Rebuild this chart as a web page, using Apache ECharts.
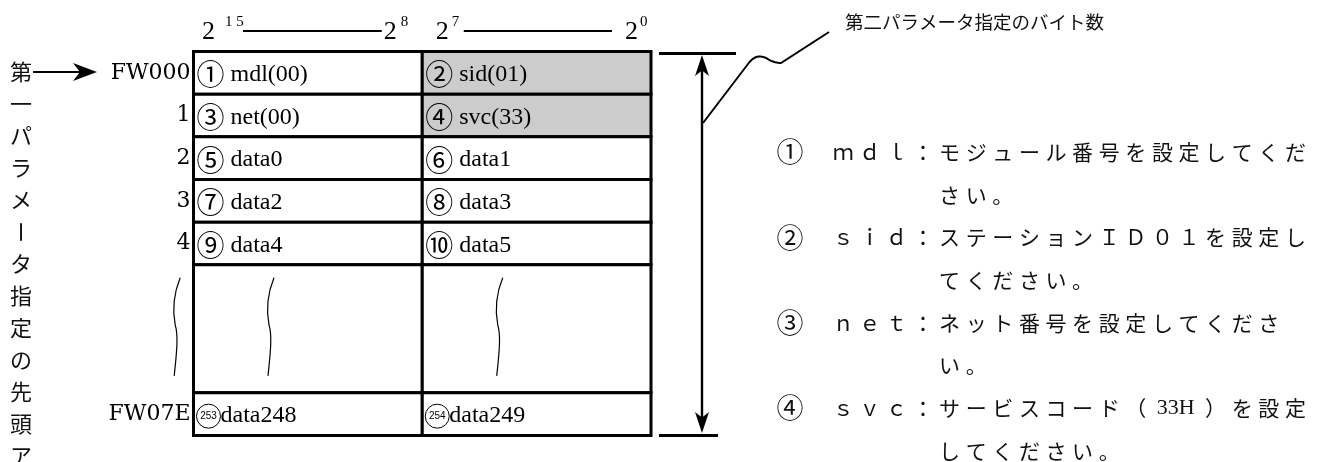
<!DOCTYPE html>
<html>
<head>
<meta charset="utf-8">
<script src="https://cdn.jsdelivr.net/npm/echarts@6/dist/echarts.min.js"></script>
<style>html,body{margin:0;padding:0;background:#fff}#c{width:1326px;height:462px}</style>
</head>
<body>
<div id="c"></div>
<script>
// ---------------- data ----------------
const addrLabels = ['FW000', '1', '2', '3', '4', '', 'FW07E'];
const rowStart   = [0, 1, 2, 3, 4, 5, 8];
const rowSpan    = [1, 1, 1, 1, 1, 3, 1];
const upperNum   = ['①', '③', '⑤', '⑦', '⑨', '', '253'];
const upperName  = ['mdl(00)', 'net(00)', 'data0', 'data2', 'data4', '', 'data248'];
const lowerNum   = ['②', '④', '⑥', '⑧', '⑩', '', '254'];
const lowerName  = ['sid(01)', 'svc(33)', 'data1', 'data3', 'data5', '', 'data249'];
const lowerShaded = [1, 1, 0, 0, 0, 0, 0];
const bitLabels  = ['15', '8', '7', '0'];
const sideText   = '第一パラメータ指定の先頭ア';
const titleText  = '第二パラメータ指定のバイト数';
const noteLines  = [
  {indent: 0, text: '①　ｍｄｌ：モジュール番号を設定してくだ'},
  {indent: 6, text: 'さい。'},
  {indent: 0, text: '②　ｓｉｄ：ステーションＩＤ０１を設定し'},
  {indent: 6, text: 'てください。'},
  {indent: 0, text: '③　ｎｅｔ：ネット番号を設定してくださ'},
  {indent: 6, text: 'い。'},
  {indent: 0, text: '④　ｓｖｃ：サービスコード（33H）を設定'},
  {indent: 6, text: 'してください。'}
];

// ---------------- styles ----------------
const SERIF = "'Liberation Serif','Times New Roman',serif";
const SERIF2 = "'DejaVu Serif',serif";
const CJK = "'Noto Sans CJK JP','Noto Sans CJK SC',sans-serif";
const INK = '#000';

const RICH = {
  n: {fontFamily: CJK, fontSize: 28, color: INK},
  c: {fontFamily: "'Liberation Sans',sans-serif", fontSize: 10, color: INK, width: 24, height: 24, lineHeight: 24,
      align: 'center', borderColor: INK, borderWidth: 1, borderRadius: 12},
  t: {fontFamily: SERIF, fontSize: 24, color: INK}
};

function cellText(num, name) {
  if (!num) return '';
  if (/^\d+$/.test(num)) return '{c|' + num + '}{t|' + name + '}';
  return '{n|' + num + '}{t| ' + name + '}';
}

function squiggle(x, y, h) {
  const k = h / 100;
  return 'M' + (x + 5) + ',' + y +
    ' C' + (x - 1) + ',' + (y + 15 * k) + ' ' + (x - 3) + ',' + (y + 32 * k) + ' ' + x + ',' + (y + 48 * k) +
    ' C' + (x + 3) + ',' + (y + 58 * k) + ' ' + (x + 2) + ',' + (y + 72 * k) + ' ' + (x - 1) + ',' + (y + h);
}

const cells = [];
for (let i = 0; i < rowStart.length; i++) {
  for (let c = 0; c < 2; c++) cells.push([c, rowStart[i], rowStart[i] + rowSpan[i], i]);
}

function renderItem(params, api) {
  const c = api.value(0), r0 = api.value(1), r1 = api.value(2), i = api.value(3);
  const p0 = api.coord([c, r0]), p1 = api.coord([c + 1, r1]);
  const children = [{
    type: 'rect',
    shape: {x: p0[0], y: p0[1], width: p1[0] - p0[0], height: p1[1] - p0[1]},
    style: {fill: (c === 1 && lowerShaded[i]) ? '#cccccc' : '#ffffff', stroke: INK, lineWidth: 3}
  }];
  const num = c === 0 ? upperNum[i] : lowerNum[i];
  const name = c === 0 ? upperName[i] : lowerName[i];
  if (num) {
    children.push({
      type: 'text', x: p0[0] + 3, y: (p0[1] + p1[1]) / 2 + 2,
      style: {text: cellText(num, name), rich: RICH, verticalAlign: 'middle', align: 'left'}
    });
  }
  if (rowSpan[i] > 1) {
    const xs = [api.coord([c + 0.33, r0])[0]];
    if (c === 0) xs.push(api.coord([-0.08, r0])[0]);
    const h = p1[1] - p0[1];
    xs.forEach(function (x) {
      children.push({type: 'path', shape: {pathData: squiggle(x, p0[1] + 13, h - 30)},
        style: {fill: null, stroke: INK, lineWidth: 1.2}});
    });
  }
  return {type: 'group', children: children};
}

const chart = echarts.init(document.getElementById('c'), null, {renderer: 'canvas'});

chart.setOption({
  animation: false,
  backgroundColor: '#fff',
  grid: {left: 193.5, top: 51.5, width: 457.5, height: 384, containLabel: false, outerBoundsMode: 'none'},
  xAxis: {type: 'value', min: 0, max: 2, show: false},
  yAxis: {
    type: 'value', min: 0, max: 9, interval: 0.5, inverse: true,
    axisLine: {show: false}, axisTick: {show: false}, splitLine: {show: false},
    axisLabel: {
      show: true, margin: 3, color: INK, fontFamily: SERIF2, fontSize: 22, padding: [8, 0, 0, 0],
      formatter: function (v) {
        for (let i = 0; i < rowStart.length; i++) {
          if (rowSpan[i] === 1 && Math.abs(rowStart[i] + 0.5 - v) < 1e-6) return addrLabels[i];
        }
        return '';
      }
    }
  },
  series: [{type: 'custom', coordinateSystem: 'cartesian2d', clip: false, silent: true,
    data: cells, encode: {x: 0, y: [1, 2]}, renderItem: renderItem}]
});

// ---------------- annotations (positioned from the grid) ----------------
const px = function (x, y) { return chart.convertToPixel({gridIndex: 0}, [x, y]); };
const L = px(0, 0)[0], D = px(1, 0)[0], R = px(2, 0)[0], T = px(0, 0)[1], B = px(0, 9)[1];

const g = [];
function txt(x, y, s, size, fam, extra) {
  g.push({type: 'text', x: x, y: y, silent: true,
    style: Object.assign({text: s, fontSize: size, fontFamily: fam, fill: INK, verticalAlign: 'middle', align: 'left'}, extra || {})});
}
function line(x1, y1, x2, y2, w) {
  g.push({type: 'line', silent: true, shape: {x1: x1, y1: y1, x2: x2, y2: y2}, style: {stroke: INK, lineWidth: w}});
}
function poly(pts) {
  g.push({type: 'polygon', silent: true, shape: {points: pts}, style: {fill: INK}});
}
function quad(pts, p0, c, p1) {
  for (let s = 1; s <= 10; s++) {
    const t = s / 10, u = 1 - t;
    pts.push([u * u * p0[0] + 2 * u * t * c[0] + t * t * p1[0], u * u * p0[1] + 2 * u * t * c[1] + t * t * p1[1]]);
  }
}

// bit headers
const HY = 32.5, SY = 22.5, LY = 31;
txt(L + 8.5, HY, '2', 26, SERIF);
txt(L + 31.5, SY, bitLabels[0].split('').join(' '), 15, SERIF);
line(L + 49.5, LY, D - 40.5, LY, 1.8);
txt(D - 38.5, HY, '2', 26, SERIF);
txt(D - 21.5, SY, bitLabels[1], 15, SERIF);
txt(D + 13.5, HY, '2', 26, SERIF);
txt(D + 29.5, SY, bitLabels[2], 15, SERIF);
line(D + 41.5, LY, R - 39, LY, 1.8);
txt(R - 26, HY, '2', 26, SERIF);
txt(R - 11, SY, bitLabels[3], 15, SERIF);

// dimension arrow on the right
const AX = R + 51;
line(R + 8, T + 2, R + 85, T + 2, 3);
line(R + 8, B, R + 67, B, 3);
line(AX, T + 12, AX, B - 12, 2.4);
poly([[AX, T + 3.5], [AX - 7, T + 24.5], [AX, T + 19], [AX + 7, T + 24.5]]);
poly([[AX, B - 2.5], [AX - 7, B - 23.5], [AX, B - 18], [AX + 7, B - 23.5]]);
// leader curve
const lead = [[AX + 1, 123], [AX + 46, 64]];
quad(lead, [AX + 46, 64], [AX + 54, 53], [AX + 64, 58]);
quad(lead, [AX + 64, 58], [AX + 72, 63], [AX + 79, 63]);
lead.push([AX + 127, 32]);
g.push({type: 'polyline', silent: true, shape: {points: lead}, style: {fill: null, stroke: INK, lineWidth: 2}});
txt(AX + 143, 22, titleText, 18.5, CJK, {fill: '#111'});

// vertical caption on the left + arrow
Array.from(sideText).forEach(function (ch, k) {
  const el = {type: 'text', x: 21, y: 72 + 32 * k, silent: true,
    style: {text: ch, fontSize: 22, fontFamily: CJK, fill: '#111', align: 'center', verticalAlign: 'middle'}};
  if (ch === 'ー') { el.rotation = -Math.PI / 2; }
  g.push(el);
});
line(33, 72, 82, 72, 2);
poly([[97, 72], [73, 63], [80, 72], [73, 81]]);

// notes on the right
const NX = 790, NP = 26.6, NY = 152, NL = 42.7;
noteLines.forEach(function (ln, li) {
  const toks = ln.text.match(/33H|./gu);
  let col = ln.indent;
  toks.forEach(function (t) {
    const span = t === '33H' ? 2 : 1;
    if (t !== '　') {
      const isLatin = /^[0-9A-Za-z]+$/.test(t);
      const isCircled = /[①-⑳]/.test(t);
      g.push({type: 'text', silent: true, x: NX + NP * (col + (span - 1) / 2), y: NY + NL * li,
        style: {text: t, fontSize: isLatin ? 22 : (isCircled ? 27 : 21), fontFamily: isLatin ? SERIF : CJK, fill: '#111',
          align: 'center', verticalAlign: 'middle'}});
    }
    col += span;
  });
});

chart.setOption({graphic: {elements: g}});
</script>
</body>
</html>
